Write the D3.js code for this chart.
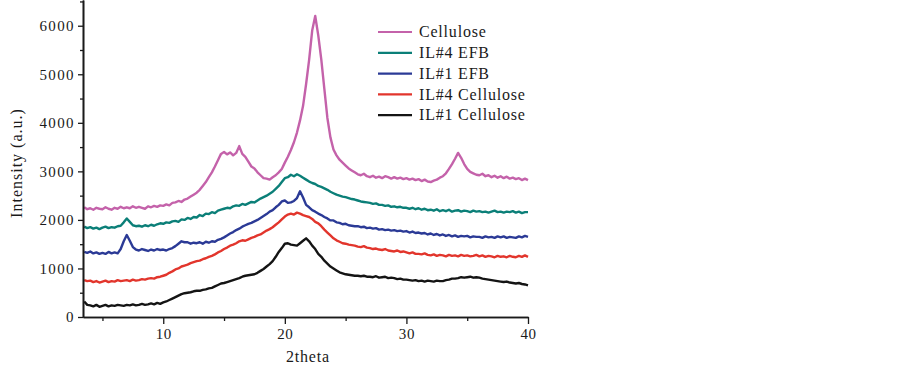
<!DOCTYPE html>
<html>
<head>
<meta charset="utf-8">
<script src="https://cdn.jsdelivr.net/npm/d3@7"></script>
<style>
  body { margin: 0; background: #fff; }
  svg text { font-family: 'Liberation Serif', 'Times New Roman', serif; fill: #1a1a1a; }
</style>
</head>
<body>
<div id="xrd-graph"></div>
<script>
// 2theta sampling grid (deg)
var two_theta = [3.5, 3.75,
  4, 4.25, 4.5, 4.75, 5, 5.25, 5.5, 5.75, 6, 6.25, 6.5, 6.75, 7, 7.25, 7.5, 7.75,
  8, 8.25, 8.5, 8.75, 9, 9.25, 9.5, 9.75, 10, 10.25, 10.5, 10.75, 11, 11.25, 11.5, 11.75,
  12, 12.25, 12.5, 12.75, 13, 13.25, 13.5, 13.75, 14, 14.25, 14.5, 14.75, 15, 15.25, 15.5, 15.75,
  16, 16.25, 16.5, 16.75, 17, 17.25, 17.5, 17.75, 18, 18.25, 18.5, 18.75, 19, 19.25, 19.5, 19.75,
  20, 20.25, 20.5, 20.75, 21, 21.25, 21.5, 21.75, 22, 22.25, 22.5, 22.75, 23, 23.25, 23.5, 23.75,
  24, 24.25, 24.5, 24.75, 25, 25.25, 25.5, 25.75, 26, 26.25, 26.5, 26.75, 27, 27.25, 27.5, 27.75,
  28, 28.25, 28.5, 28.75, 29, 29.25, 29.5, 29.75, 30, 30.25, 30.5, 30.75, 31, 31.25, 31.5, 31.75,
  32, 32.25, 32.5, 32.75, 33, 33.25, 33.5, 33.75, 34, 34.25, 34.5, 34.75, 35, 35.25, 35.5, 35.75,
  36, 36.25, 36.5, 36.75, 37, 37.25, 37.5, 37.75, 38, 38.25, 38.5, 38.75, 39, 39.25, 39.5, 39.75,
  40]

var cellulose = [2260, 2220,
  2240, 2210, 2250, 2230, 2220, 2260, 2230, 2210, 2250, 2230, 2270, 2240, 2260, 2240, 2280, 2250,
  2270, 2250, 2230, 2280, 2260, 2290, 2270, 2300, 2290, 2320, 2300, 2350, 2360, 2390, 2370, 2420,
  2440, 2480, 2520, 2560, 2620, 2700, 2780, 2880, 2980, 3100, 3230, 3360, 3400, 3350, 3390, 3330,
  3380, 3520, 3360, 3300, 3200, 3100, 3060, 2980, 2920, 2860, 2850, 2830, 2880, 2920, 2980, 3050,
  3180, 3300, 3440, 3600, 3800, 4050, 4350, 4800, 5300, 5900, 6200, 5800, 5300, 4700, 4100, 3700,
  3450, 3330, 3240, 3180, 3120, 3060, 3020, 2980, 2940, 2920, 2950, 2900, 2880, 2910, 2870, 2890,
  2860, 2900, 2880, 2850, 2880, 2850, 2870, 2840, 2860, 2830, 2850, 2820, 2840, 2800, 2830, 2790,
  2780, 2810, 2830, 2870, 2900, 2960, 3050, 3150, 3260, 3380, 3280, 3150, 3050, 2990, 2960, 2930,
  2920, 2950, 2900, 2920, 2880, 2910, 2870, 2900, 2860, 2890, 2850, 2870, 2840, 2860, 2820, 2850,
  2820]

var il4_efb = [1860, 1830,
  1850, 1820, 1840, 1810, 1840, 1860, 1830, 1850, 1840, 1870, 1880, 1950, 2030, 1960, 1890, 1870,
  1880, 1860, 1890, 1870, 1900, 1880, 1910, 1930, 1920, 1950, 1940, 1970, 1980, 1960, 2010, 2000,
  2040, 2020, 2060, 2050, 2100, 2080, 2130, 2120, 2160, 2140, 2190, 2210, 2230, 2250, 2240, 2280,
  2300, 2290, 2330, 2310, 2340, 2370, 2360, 2400, 2440, 2470, 2500, 2540, 2580, 2640, 2700, 2780,
  2860, 2880, 2930, 2900, 2940, 2910, 2870, 2830, 2790, 2760, 2740, 2700, 2680, 2650, 2620, 2580,
  2550, 2520, 2500, 2480, 2470, 2450, 2430, 2420, 2400, 2380, 2370, 2360, 2350, 2330, 2340, 2310,
  2310, 2290, 2300, 2270, 2280, 2260, 2270, 2250, 2250, 2230, 2250, 2220, 2240, 2210, 2230, 2200,
  2210, 2190, 2220, 2180, 2200, 2180, 2210, 2170, 2190, 2200, 2170, 2190, 2180, 2160, 2190, 2170,
  2180, 2160, 2170, 2150, 2170, 2190, 2160, 2170, 2150, 2170, 2160, 2180, 2150, 2170, 2140, 2160,
  2160]

var il1_efb = [1340, 1320,
  1350, 1310, 1330, 1300, 1320, 1300, 1340, 1310, 1330, 1310, 1400, 1560, 1690, 1570, 1440, 1390,
  1370, 1400, 1380, 1360, 1390, 1370, 1400, 1380, 1390, 1370, 1400, 1420, 1460, 1510, 1560, 1540,
  1540, 1510, 1530, 1520, 1540, 1510, 1550, 1530, 1560, 1550, 1590, 1610, 1640, 1680, 1720, 1750,
  1790, 1820, 1860, 1890, 1920, 1940, 1970, 2000, 2040, 2080, 2120, 2170, 2200, 2260, 2310, 2380,
  2400, 2350, 2360, 2390, 2450, 2590, 2460, 2310, 2260, 2200, 2170, 2130, 2100, 2060, 2030, 1990,
  1990, 1950, 1940, 1910, 1920, 1890, 1880, 1870, 1870, 1850, 1860, 1830, 1840, 1820, 1830, 1800,
  1810, 1790, 1800, 1780, 1790, 1770, 1780, 1760, 1770, 1740, 1760, 1730, 1740, 1720, 1730, 1700,
  1720, 1690, 1710, 1680, 1700, 1670, 1690, 1660, 1680, 1650, 1670, 1660, 1670, 1640, 1660, 1650,
  1650, 1630, 1660, 1640, 1650, 1630, 1660, 1640, 1660, 1630, 1650, 1640, 1630, 1660, 1640, 1670,
  1650]

var il4_cellulose = [760, 740,
  750, 720, 740, 710, 730, 750, 720, 740, 730, 760, 740, 750, 760, 740, 770, 750,
  760, 780, 770, 790, 800, 790, 820, 830, 850, 870, 910, 940, 980, 1000, 1040, 1060,
  1080, 1110, 1130, 1150, 1160, 1190, 1210, 1240, 1260, 1290, 1330, 1360, 1400, 1430, 1470, 1490,
  1520, 1560, 1580, 1570, 1600, 1630, 1650, 1680, 1700, 1740, 1780, 1810, 1850, 1900, 1950, 2010,
  2070, 2110, 2130, 2110, 2150, 2130, 2100, 2080, 2060, 2020, 1960, 1930, 1870, 1800, 1740, 1680,
  1620, 1580, 1550, 1520, 1510, 1490, 1480, 1470, 1450, 1440, 1460, 1430, 1420, 1400, 1410, 1390,
  1380, 1400, 1370, 1360, 1350, 1370, 1340, 1350, 1330, 1310, 1330, 1300, 1300, 1290, 1310, 1280,
  1270, 1290, 1260, 1280, 1270, 1250, 1280, 1260, 1270, 1250, 1280, 1260, 1270, 1250, 1260, 1280,
  1250, 1270, 1240, 1260, 1250, 1230, 1260, 1240, 1250, 1230, 1260, 1240, 1230, 1260, 1240, 1270,
  1240]

var il1_cellulose = [320, 250,
  240, 220, 250, 210, 230, 250, 220, 240, 230, 250, 240, 230, 250, 240, 260, 240,
  250, 270, 250, 260, 280, 260, 290, 270, 300, 320, 350, 380, 410, 440, 470, 490,
  500, 510, 530, 540, 540, 560, 570, 590, 600, 630, 660, 690, 700, 720, 740, 760,
  780, 800, 830, 850, 860, 870, 880, 910, 950, 990, 1040, 1090, 1150, 1240, 1340, 1420,
  1510, 1520, 1490, 1480, 1470, 1520, 1570, 1620, 1560, 1470, 1400, 1300, 1240, 1160, 1100, 1040,
  1000, 960, 920, 900, 880, 870, 860, 850, 850, 840, 850, 830, 830, 820, 840, 810,
  820, 830, 800, 810, 800, 780, 790, 770, 770, 760, 750, 760, 740, 750, 730, 750,
  740, 730, 750, 740, 740, 760, 770, 790, 790, 800, 820, 810, 820, 830, 810, 820,
  810, 790, 780, 770, 760, 750, 740, 730, 720, 730, 710, 700, 690, 700, 680, 670,
  650]

var series_names = ['Cellulose', 'IL#4 EFB', 'IL#1 EFB', 'IL#4 Cellulose', 'IL#1 Cellulose']
var series_values = [cellulose, il4_efb, il1_efb, il4_cellulose, il1_cellulose]
var series_colors = ['#c462aa', '#0b7f78', '#2b3a96', '#e2352c', '#141414']

var x_ticks = [10, 20, 30, 40]
var x_minor = [5, 15, 25, 35]
var y_ticks = [0, 1000, 2000, 3000, 4000, 5000, 6000]
var y_minor = [500, 1500, 2500, 3500, 4500, 5500, 6500]

var margin = { top: 0, bottom: 51, left: 83, right: 374 }
var width = 902 - margin.left - margin.right
var height = 368 - margin.top - margin.bottom

var svg = d3
  .select('#xrd-graph')
  .append('svg')
  .attr('width', 902)
  .attr('height', 368)

var g = svg.append('g')
  .attr('transform', 'translate(' + margin.left + ',' + margin.top + ')')

// scales
var x = d3.scaleLinear().domain([3.4, 40]).range([0, width])
var y = d3.scaleLinear().domain([0, 6530]).range([height, 0])

// curves, bottom one first so the upper ones sit on top
var line = d3.line()
  .x((d, i) => x(two_theta[i]))
  .y(d => y(d))

for (var s = series_values.length - 1; s >= 0; s--) {
  g.append('path')
    .datum(series_values[s])
    .attr('d', line)
    .attr('fill', 'none')
    .attr('stroke', series_colors[s])
    .attr('stroke-width', 2.4)
    .attr('stroke-linejoin', 'round')
}

// axes
var xAxis = g.append('g')
  .attr('transform', 'translate(0,' + height + ')')
  .call(d3.axisBottom(x).tickValues(x_ticks).tickSize(7).tickPadding(4).tickSizeOuter(0))
xAxis.append('g').call(d3.axisBottom(x).tickValues(x_minor).tickSize(4).tickFormat('').tickSizeOuter(0))

var yAxis = g.append('g')
  .call(d3.axisLeft(y).tickValues(y_ticks).tickFormat(d3.format('d')).tickSize(5).tickPadding(3).tickSizeOuter(0))
yAxis.append('g').call(d3.axisLeft(y).tickValues(y_minor).tickSize(3).tickFormat('').tickSizeOuter(0))

g.selectAll('g').attr('font-family', null).attr('font-size', null)
g.selectAll('.domain').attr('stroke', '#1a1a1a').attr('stroke-width', 1.6)
g.selectAll('.tick line').attr('stroke', '#1a1a1a').attr('stroke-width', 1.3)
xAxis.selectAll('.tick text')
  .style('font-size', '15px')
  .attr('fill', '#1a1a1a')
  .attr('letter-spacing', '0.6px')
yAxis.selectAll('.tick text')
  .style('font-size', '15px')
  .attr('fill', '#1a1a1a')
  .attr('letter-spacing', '1.4px')

// axis titles
svg.append('text')
  .attr('x', margin.left + x(21.9))
  .attr('y', 362)
  .attr('text-anchor', 'middle')
  .style('font-size', '16px')
  .attr('letter-spacing', '0.8px')
  .text('2theta')

svg.append('text')
  .attr('transform', 'translate(22,163) rotate(-90)')
  .attr('text-anchor', 'middle')
  .style('font-size', '16px')
  .attr('letter-spacing', '1px')
  .text('Intensity (a.u.)')

// legend
var legend = svg.selectAll('.legend-item')
  .data(series_names)
  .enter()
  .append('g')
  .attr('class', 'legend-item')
  .attr('transform', (d, i) => 'translate(378,' + (32 + i * 20.8) + ')')

legend.append('line')
  .attr('x1', 0)
  .attr('x2', 34)
  .attr('stroke', (d, i) => series_colors[i])
  .attr('stroke-width', 2.2)

legend.append('text')
  .attr('x', 41)
  .attr('dy', '0.33em')
  .style('font-size', '16px')
  .attr('letter-spacing', '0.8px')
  .text(d => d)
</script>
</body>
</html>
